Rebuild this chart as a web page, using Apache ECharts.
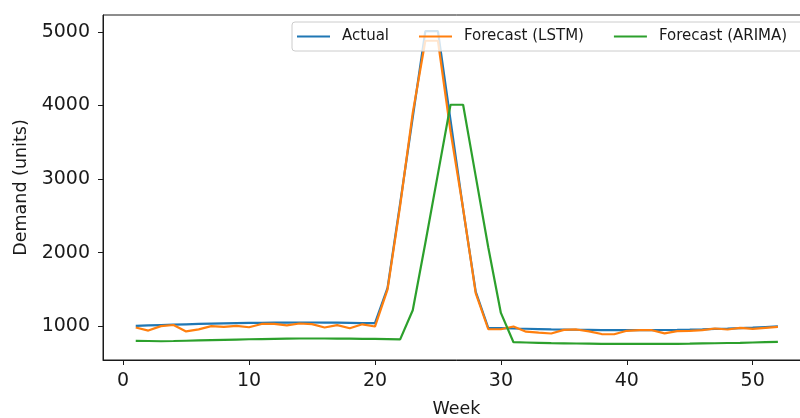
<!DOCTYPE html>
<html>
<head>
<meta charset="utf-8">
<title>Demand forecast</title>
<script src="https://cdn.jsdelivr.net/npm/echarts@6/dist/echarts.min.js"></script>
<style>
  html, body { margin: 0; padding: 0; background: #fff; overflow: hidden; }
  /* the original plot runs past the right edge of the picture */
  #chart { width: 812px; height: 418px; }
</style>
</head>
<body>
<div id="chart"></div>
<script>
// weeks 1..52
const weeks = Array.from({ length: 52 }, (_, i) => i + 1);

const actual = [
  1005, 1010, 1015, 1020, 1025, 1030, 1034, 1038, 1041, 1044,
  1046, 1048, 1049, 1050, 1050, 1049, 1047, 1045, 1042, 1040,
  1520, 2670, 3840, 5010, 5010, 3800, 2590, 1470, 975, 972,
  968, 965, 961, 957, 954, 951, 949, 947, 946, 945,
  945, 946, 948, 950, 953, 957, 962, 967, 973, 980,
  988, 996
];

const lstm = [
  982, 940, 1000, 1016, 928, 957, 1000, 991, 1005, 985,
  1030, 1030, 1010, 1036, 1027, 982, 1014, 972, 1025, 995,
  1500, 2640, 3900, 4880, 4880, 3650, 2600, 1450, 958, 958,
  995, 925, 912, 900, 950, 955, 930, 893, 890, 937,
  945, 945, 902, 932, 937, 945, 968, 955, 977, 964,
  977, 990
];

const arima = [
  800, 798, 795, 798, 802, 806, 810, 814, 818, 822,
  825, 828, 830, 832, 832, 832, 831, 830, 828, 826,
  824, 820, 1216, 2130, 3070, 4010, 4010, 3040, 2070, 1180,
  782, 778, 774, 770, 767, 764, 762, 760, 759, 758,
  758, 758, 759, 760, 762, 765, 768, 771, 774, 778,
  782, 786
];

const xTicks = [0, 10, 20, 30, 40, 50];
const yTicks = [1000, 2000, 3000, 4000, 5000];

const font = 'DejaVu Sans';
const ink = '#1a1a1a';

const pairs = (ys) => weeks.map((w, i) => [w, ys[i]]);

const lineSeries = (name, ys, color) => ({
  name: name,
  type: 'line',
  data: pairs(ys),
  symbol: 'none',
  lineStyle: { color: color, width: 2.2 },
  itemStyle: { color: color },
  emphasis: { disabled: true }
});

const chart = echarts.init(document.getElementById('chart'));
chart.setOption({
  animation: false,
  backgroundColor: '#fff',
  textStyle: { fontFamily: font },
  grid: {
    left: 103, top: 15, right: 2, bottom: 58,
    outerBoundsMode: 'none',
    show: true, borderColor: ink, borderWidth: 1
  },
  legend: {
    left: 292, top: 22, width: 600,
    orient: 'horizontal',
    padding: [7, 20, 7, 5],
    itemGap: 30, itemWidth: 33, itemHeight: 2.2,
    icon: 'rect',
    backgroundColor: 'rgba(255,255,255,0.8)',
    borderColor: '#cccccc', borderWidth: 1, borderRadius: 3,
    textStyle: { fontFamily: font, fontSize: 15, color: ink, padding: [0, 0, 0, 7] },
    data: ['Actual', 'Forecast (LSTM)', 'Forecast (ARIMA)']
  },
  xAxis: {
    type: 'value',
    min: -1.6, max: 54.55,
    name: 'Week', nameLocation: 'middle', nameGap: 40,
    nameTextStyle: { fontFamily: font, fontSize: 17.5, color: ink },
    axisLine: { show: true, onZero: false, lineStyle: { color: ink, width: 1 } },
    axisTick: { show: true, length: 5, customValues: xTicks, lineStyle: { color: ink } },
    axisLabel: { customValues: xTicks, fontSize: 19, color: ink, margin: 12 },
    splitLine: { show: false }
  },
  yAxis: {
    type: 'value',
    min: 540, max: 5230,
    name: 'Demand (units)', nameLocation: 'middle', nameGap: 71,
    nameTextStyle: { fontFamily: font, fontSize: 17.5, color: ink },
    axisLine: { show: true, onZero: false, lineStyle: { color: ink, width: 1 } },
    axisTick: { show: true, length: 5, customValues: yTicks, lineStyle: { color: ink } },
    axisLabel: { customValues: yTicks, fontSize: 19, color: ink, margin: 13, formatter: (v) => String(v) },
    splitLine: { show: false }
  },
  series: [
    lineSeries('Actual', actual, '#1f77b4'),
    lineSeries('Forecast (LSTM)', lstm, '#ff7f0e'),
    lineSeries('Forecast (ARIMA)', arima, '#2ca02c')
  ]
});
</script>
</body>
</html>
